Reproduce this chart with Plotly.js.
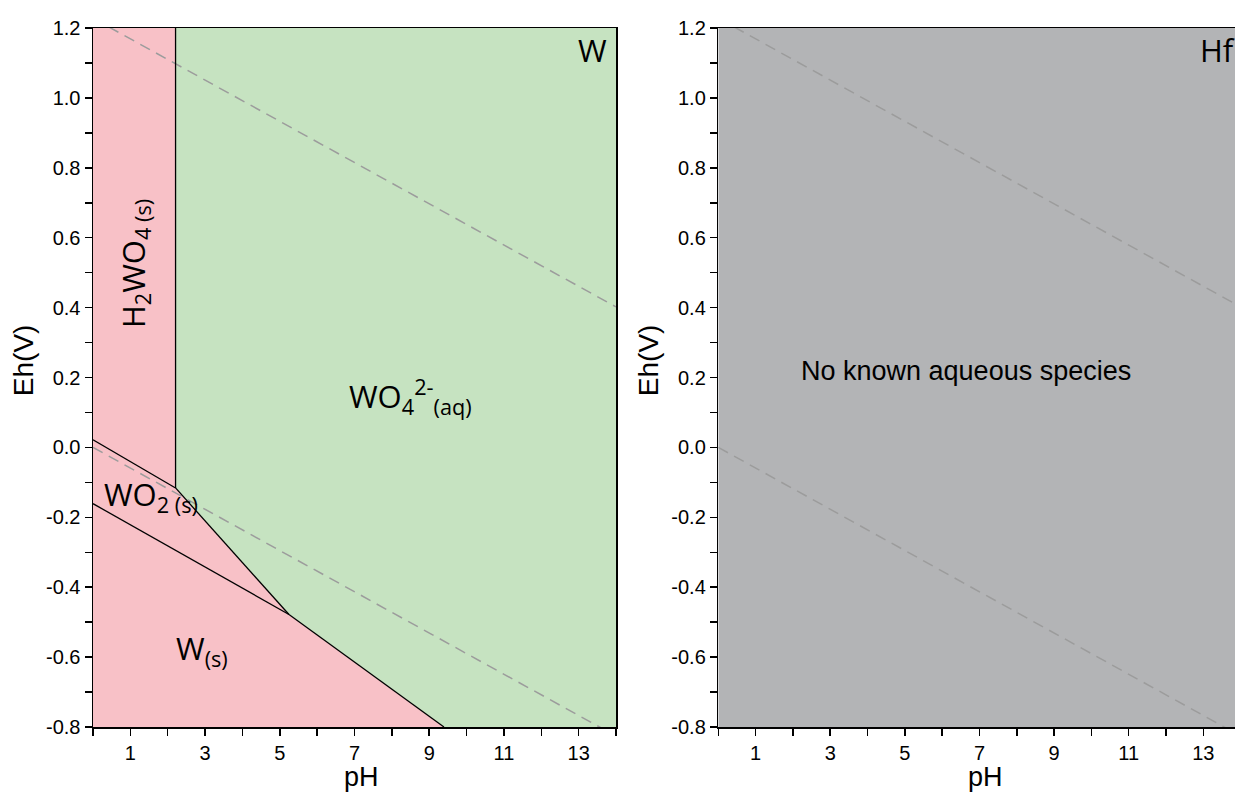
<!DOCTYPE html>
<html>
<head>
<meta charset="utf-8">
<script src="https://cdn.plot.ly/plotly-3.0.1.min.js"></script>
<style>
html,body{margin:0;padding:0;background:#fff;}
#chart{width:1235px;height:792px;}
</style>
</head>
<body>
<div id="chart"></div>
<script>
// ---- Data ----
// Stability-field polygons, W system (pH, Eh)
const h2wo4X = [0, 2.21, 2.21, 0];
const h2wo4Y = [1.2, 1.2, -0.116, 0.022];
const wo2X = [0, 2.21, 5.246, 0];
const wo2Y = [0.022, -0.116, -0.478, -0.161];
const wX = [0, 5.246, 9.395, 0];
const wY = [-0.161, -0.478, -0.8, -0.8];
const wo4X = [2.21, 14, 14, 9.395, 5.246, 2.21];
const wo4Y = [1.2, 1.2, -0.8, -0.8, -0.478, -0.116];
// Boundary lines
const bVertX = [2.21, 2.21];            const bVertY = [1.2, -0.116];
const bH2wo4Wo2X = [0, 2.21];           const bH2wo4Wo2Y = [0.022, -0.116];
const bWo2Wo4X = [2.21, 5.246];         const bWo2Wo4Y = [-0.116, -0.478];
const bWWo2X = [0, 5.246];              const bWWo2Y = [-0.161, -0.478];
const bWWo4X = [5.246, 9.395];          const bWWo4Y = [-0.478, -0.8];
// Water stability limits
const waterUpX = [0, 14];   const waterUpY = [1.228, 0.402];
const waterLoX = [0, 14];   const waterLoY = [0.0, -0.826];
// Hf system: single field
const hfX = [0, 14, 14, 0];
const hfY = [1.2, 1.2, -0.8, -0.8];
// Ticks
const xTickVals = [1,3,5,7,9,11,13];
const xTickText = ['1','3','5','7','9','11','13'];
const xMinorVals = [0,2,4,6,8,10,12,14];
const yTickVals = [-0.8,-0.6,-0.4,-0.2,0,0.2,0.4,0.6,0.8,1.0,1.2];
const yTickText = ['-0.8','-0.6','-0.4','-0.2','0.0','0.2','0.4','0.6','0.8','1.0','1.2'];
const yMinorVals = [-0.7,-0.5,-0.3,-0.1,0.1,0.3,0.5,0.7,0.9,1.1];
// Axis titles
const xTitle = 'pH';
const yTitle = 'Eh(V)';

const PINK = '#f8c1c7', GREEN = '#c6e3c1', GRAY = '#b3b4b6';
const DASH = {color:'#9c9c9c', width:1.5, dash:'11px,7px'};
const BL = {color:'#000', width:1.3};

function poly(x,y,c,xa,ya){return {x:x,y:y,mode:'lines',fill:'toself',fillcolor:c,line:{width:0},xaxis:xa,yaxis:ya,hoverinfo:'skip',showlegend:false};}
function ln(x,y,st,xa,ya){return {x:x,y:y,mode:'lines',line:st,xaxis:xa,yaxis:ya,hoverinfo:'skip',showlegend:false};}

const traces = [
  poly(h2wo4X,h2wo4Y,PINK,'x','y'),
  poly(wo2X,wo2Y,PINK,'x','y'),
  poly(wX,wY,PINK,'x','y'),
  poly(wo4X,wo4Y,GREEN,'x','y'),
  ln(waterUpX,waterUpY,DASH,'x','y'),
  ln(waterLoX,waterLoY,DASH,'x','y'),
  ln(bVertX,bVertY,BL,'x','y'),
  ln(bH2wo4Wo2X,bH2wo4Wo2Y,BL,'x','y'),
  ln(bWo2Wo4X,bWo2Wo4Y,BL,'x','y'),
  ln(bWWo2X,bWWo2Y,BL,'x','y'),
  ln(bWWo4X,bWWo4Y,BL,'x','y'),
  poly(hfX,hfY,GRAY,'x2','y2'),
  ln(waterUpX,waterUpY,DASH,'x2','y2'),
  ln(waterLoX,waterLoY,DASH,'x2','y2')
];

const tickFont = {family:'Liberation Sans, Arial, sans-serif', size:20, color:'#000'};
const titleFont = {family:'Liberation Sans, Arial, sans-serif', size:28, color:'#000'};
const xTitleFont = {family:'Liberation Sans, Arial, sans-serif', size:27, color:'#000'};
const labFont = {family:'Open Sans, sans-serif', size:31, color:'#000'};

function xax(domain, range, mirror){
  return {domain:domain, range:range, showgrid:false, zeroline:false, showline:true, linecolor:'#000', linewidth:1.5,
    mirror:mirror, ticks:'outside', ticklen:7, tickwidth:1.5, tickcolor:'#000',
    tickmode:'array', tickvals:xTickVals, ticktext:xTickText, tickfont:tickFont,
    minor:{tickmode:'array', tickvals:xMinorVals, ticks:'outside', ticklen:7, tickwidth:1.5, tickcolor:'#000', showgrid:false},
    automargin:false, fixedrange:true};
}
function yax(domain, anchor, mirror){
  return {domain:domain, range:[-0.8,1.2], anchor:anchor, showgrid:false, zeroline:false, showline:true, linecolor:'#000', linewidth:1.5,
    mirror:mirror, ticks:'outside', ticklen:7, tickwidth:1.5, tickcolor:'#000',
    tickmode:'array', tickvals:yTickVals, ticktext:yTickText, tickfont:tickFont,
    minor:{tickmode:'array', tickvals:yMinorVals, ticks:'outside', ticklen:7, tickwidth:1.5, tickcolor:'#000', showgrid:false},
    automargin:false, fixedrange:true};
}

// plot area: left 93px, top 27.7px, bottom at 727px
const ML = 93, MT = 27.7, MB = 792 - 727;
const PW = 1235 - ML, PH = 792 - MT - MB;
const px2x = p => (p - ML) / PW;
const py2y = p => (727 - p) / PH;

const layout = {
  width:1235, height:792,
  margin:{l:ML, r:0, t:MT, b:MB, pad:0},
  paper_bgcolor:'#fff', plot_bgcolor:'rgba(0,0,0,0)',
  showlegend:false,
  xaxis: Object.assign(xax([0, px2x(616)],[0,14],true), {anchor:'y'}),
  yaxis: yax([0,1],'x',true),
  xaxis2: Object.assign(xax([px2x(718.3), 1],[0,13.85],true), {anchor:'y2'}),
  yaxis2: yax([0,1],'x2',false),
  annotations:[
    // axis titles
    {xref:'paper',yref:'paper',x:px2x(361),y:py2y(777),xanchor:'center',yanchor:'middle',borderpad:0,text:xTitle,showarrow:false,font:xTitleFont},
    {xref:'paper',yref:'paper',x:px2x(985),y:py2y(777),xanchor:'center',yanchor:'middle',borderpad:0,text:xTitle,showarrow:false,font:xTitleFont},
    {xref:'paper',yref:'paper',x:px2x(23),y:py2y(360),xanchor:'center',yanchor:'middle',text:yTitle,textangle:-90,showarrow:false,font:titleFont},
    {xref:'paper',yref:'paper',x:px2x(648),y:py2y(360),xanchor:'center',yanchor:'middle',text:yTitle,textangle:-90,showarrow:false,font:titleFont},
    // field labels
    {xref:'x',yref:'y',x:13.38,y:1.136,text:'W',showarrow:false,font:labFont},
    {xref:'x2',yref:'y2',x:13.37,y:1.136,text:'Hf',showarrow:false,font:labFont},
    {xref:'x',yref:'y',x:1.12,y:0.527,text:'H<sub>2</sub>WO<sub>4 (s)</sub>',textangle:-90,showarrow:false,font:labFont},
    {xref:'x',yref:'y',x:6.8,y:0.145,xanchor:'left',text:'WO<sub>4</sub><sup>2-</sup><sub>(aq)</sub>',showarrow:false,font:labFont},
    {xref:'x',yref:'y',x:0.23,y:-0.138,xanchor:'left',text:'WO<sub>2 (s)</sub>',showarrow:false,font:labFont},
    {xref:'x',yref:'y',x:2.17,y:-0.58,xanchor:'left',text:'W<sub>(s)</sub>',showarrow:false,font:labFont},
    {xref:'x2',yref:'y2',x:6.64,y:0.218,text:'No known aqueous species',showarrow:false,
      font:{family:'Liberation Sans, Arial, sans-serif', size:27, color:'#000'}}
  ]
};

Plotly.newPlot('chart', traces, layout, {staticPlot:true, displayModeBar:false});
</script>
</body>
</html>
